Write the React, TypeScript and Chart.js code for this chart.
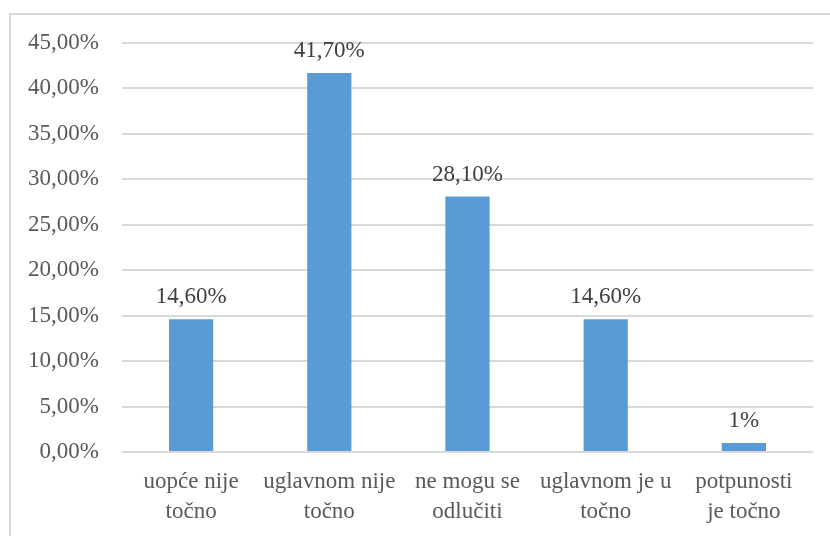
import React, { useEffect, useRef } from "react";
import { Chart, registerables } from "chart.js";

Chart.register(...registerables);

const categories: string[][] = [
  ["uopće nije", "točno"],
  ["uglavnom nije", "točno"],
  ["ne mogu se", "odlučiti"],
  ["uglavnom je u", "točno"],
  ["potpunosti", "je točno"],
];
const values: number[] = [14.6, 41.7, 28.1, 14.6, 1];
const valueLabels: string[] = ["14,60%", "41,70%", "28,10%", "14,60%", "1%"];
const yTickLabels: string[] = [
  "0,00%", "5,00%", "10,00%", "15,00%", "20,00%",
  "25,00%", "30,00%", "35,00%", "40,00%", "45,00%",
];

const FONT = "'Liberation Serif', 'Times New Roman', Tinos, serif";

const framePlugin = {
  id: "frame",
  beforeDraw(chart: any) {
    const ctx = chart.ctx;
    ctx.save();
    ctx.fillStyle = "#ffffff";
    ctx.fillRect(0, 0, chart.width, chart.height);
    ctx.strokeStyle = "#d9d9d9";
    ctx.lineWidth = 2;
    ctx.strokeRect(10, 14, chart.width + 20, chart.height + 20);
    ctx.restore();
  },
};

const valueLabelPlugin = {
  id: "valueLabels",
  afterDatasetsDraw(chart: any) {
    const ctx = chart.ctx;
    const meta = chart.getDatasetMeta(0);
    ctx.save();
    ctx.font = `23px ${FONT}`;
    ctx.fillStyle = "#404040";
    ctx.textAlign = "center";
    ctx.textBaseline = "alphabetic";
    meta.data.forEach((bar: any, i: number) => {
      ctx.fillText(valueLabels[i], bar.x, bar.y - 16);
    });
    ctx.restore();
  },
};

export default function App() {
  const ref = useRef<HTMLCanvasElement | null>(null);

  useEffect(() => {
    let chart: Chart | null = null;
    let cancelled = false;
    const build = () => {
      if (cancelled || !ref.current) return;
      chart = new Chart(ref.current, {
        type: "bar",
        data: {
          labels: categories,
          datasets: [
            {
              data: values,
              backgroundColor: "#5b9bd5",
              borderWidth: 0,
              categoryPercentage: 1,
              barPercentage: 0.32,
            },
          ],
        },
        options: {
          responsive: false,
          animation: false,
          devicePixelRatio: 1,
          layout: { padding: { top: 43, right: 17, left: 0, bottom: 0 } },
          plugins: {
            legend: { display: false },
            tooltip: { enabled: false },
          },
          scales: {
            x: {
              grid: { display: false, drawTicks: false },
              border: { display: false },
              ticks: {
                color: "#595959",
                font: { family: FONT, size: 23, lineHeight: 1.3 },
                padding: 15,
                maxRotation: 0,
                autoSkip: false,
              },
              afterFit(scale: any) {
                scale.height = 84;
              },
            },
            y: {
              min: 0,
              max: 45,
              grid: { color: "#d9d9d9", lineWidth: 2, drawTicks: false },
              border: { display: false },
              ticks: {
                stepSize: 5,
                color: "#595959",
                font: { family: FONT, size: 23 },
                padding: 23,
                callback: (_v: any, i: number) => yTickLabels[i],
              },
              afterFit(scale: any) {
                scale.width = 122;
              },
            },
          },
        },
        plugins: [framePlugin, valueLabelPlugin],
      });
    };
    const fonts: any = (document as any).fonts;
    if (fonts && fonts.load) {
      Promise.all([
        fonts.load("23px 'Liberation Serif'"),
        fonts.load("23px 'Times New Roman'"),
      ])
        .catch(() => null)
        .then(() => build());
    } else {
      build();
    }
    return () => {
      cancelled = true;
      if (chart) chart.destroy();
    };
  }, []);

  return (
    <div style={{ position: "absolute", left: 0, top: 0, width: 830, height: 536 }}>
      <span
        style={{
          position: "absolute",
          left: -9999,
          top: 0,
          fontFamily: FONT,
          fontSize: 23,
        }}
      >
        uopće točno 0,00%
      </span>
      <canvas ref={ref} width={830} height={536} style={{ width: 830, height: 536 }} />
    </div>
  );
}
